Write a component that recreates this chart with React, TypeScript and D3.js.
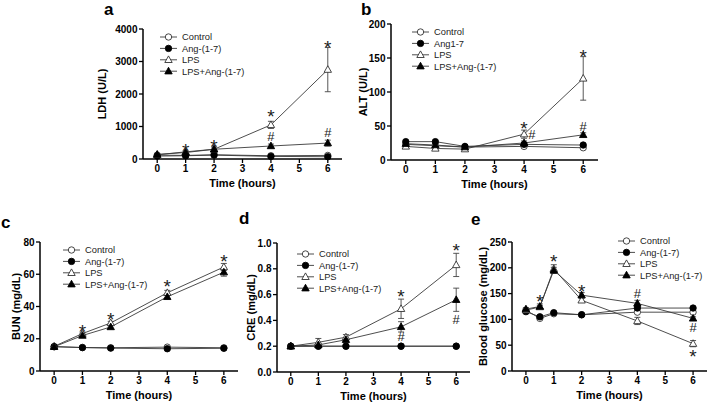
import React from 'react';
import * as d3 from 'd3';

const FONT = "'Liberation Sans', Arial, Helvetica, sans-serif";

// time points
const TIMES = [0, 1, 2, 4, 6];
const TIMES_E = [0, 0.5, 1, 2, 4, 6];
const X_TICKS = [0, 1, 2, 3, 4, 5, 6];

// a: LDH (U/L)
const ldhControl = [120, 110, 130, 100, 110];
const ldhAng = [90, 100, 120, 80, 70];
const ldhLps = [130, 220, 300, 1050, 2750];
const ldhLpsErr = [20, 40, 90, 110, 680];
const ldhLpsAng = [140, 200, 300, 400, 490];
const ldhLpsAngErr = [20, 30, 40, 60, 90];

// b: ALT (U/L)
const altControl = [23, 21, 19, 20, 18];
const altAng = [27, 27, 20, 23, 22];
const altLps = [20, 17, 16, 38, 120];
const altLpsErr = [2, 2, 2, 6, 32];
const altLpsAng = [24, 22, 19, 25, 37];
const altLpsAngErr = [2, 2, 2, 3, 3];

// c: BUN (mg/dL)
const bunControl = [15.2, 14.6, 14.4, 14.8, 14.4];
const bunAng = [15, 14.5, 14.2, 13.8, 14.1];
const bunLps = [15.3, 23.2, 29.8, 48.5, 64.5];
const bunLpsErr = [0.6, 1, 1, 1.5, 2.2];
const bunLpsAng = [15, 22, 27.3, 46, 61.3];
const bunLpsAngErr = [0.6, 1, 1, 1.2, 2.5];

// d: CRE (mg/dL)
const creControl = [0.2, 0.2, 0.2, 0.2, 0.2];
const creAng = [0.2, 0.2, 0.2, 0.2, 0.2];
const creLps = [0.2, 0.23, 0.27, 0.49, 0.83];
const creLpsErr = [0.005, 0.03, 0.02, 0.075, 0.09];
const creLpsAng = [0.2, 0.21, 0.25, 0.35, 0.56];
const creLpsAngErr = [0.005, 0.01, 0.01, 0.04, 0.09];

// e: Blood glucose (mg/dL)
const gluControl = [118, 102, 111, 109, 114, 114];
const gluAng = [115, 105, 113, 109, 122, 122];
const gluLps = [118, 124, 198, 137, 97, 53];
const gluLpsErr = [3, 3, 8, 4, 7, 6];
const gluLpsAng = [120, 125, 195, 147, 131, 102];
const gluLpsAngErr = [3, 5, 6, 5, 6, 3];

const legendA = ['Control', 'Ang-(1-7)', 'LPS', 'LPS+Ang-(1-7)'];
const legendB = ['Control', 'Ang1-7', 'LPS', 'LPS+Ang-(1-7)'];

// significance marks: [time, value, symbol]
const marksA: [number, number, string][] = [[1, 400, '*'], [2, 530, '*'], [4, 1455, '*'], [6, 3580, '*'], [4, 690, '#'], [6, 810, '#']];
const marksB: [number, number, string][] = [[4, 53, '*'], [6, 159, '*'], [4.26, 37, '#'], [6, 49, '#']];
const marksC: [number, number, string][] = [[1, 27.5, '*'], [2, 34.7, '*'], [4, 55.4, '*'], [6, 70.9, '*']];
const marksD: [number, number, string][] = [[4, 0.62, '*'], [6, 0.977, '*'], [4, 0.274, '#'], [6, 0.41, '#']];
const marksE: [number, number, string][] = [[0.5, 144, '*'], [1, 221, '*'], [2, 162, '*'], [4, 151, '#'], [6, 85, '#'], [6, 37, '*']];

type Kind = 'openCircle' | 'filledCircle' | 'openTri' | 'filledTri';
const KINDS: Kind[] = ['openCircle', 'filledCircle', 'openTri', 'filledTri'];

function Marker({ kind, x, y }: { kind: Kind; x: number; y: number }) {
  const fill = kind.startsWith('filled') ? '#000' : '#fff';
  const stroke = kind.startsWith('filled') ? '#000' : '#333';
  if (kind.endsWith('Circle')) {
    return <circle cx={x} cy={y} r={3.2} fill={fill} stroke={stroke} strokeWidth={0.9} />;
  }
  const p = `M${x},${y - 3.9}L${x + 3.7},${y + 2.7}L${x - 3.7},${y + 2.7}Z`;
  return <path d={p} fill={fill} stroke={stroke} strokeWidth={0.9} />;
}

interface PanelProps {
  letter: string;
  letterPos: [number, number];
  left: number; right: number; top: number; bottom: number;
  yMax: number; yTicks: number[]; yFmt: (v: number) => string;
  yLabel: string; yLabelX: number;
  times: number[];
  series: number[][];
  errs: (number[] | null)[];
  legend: string[];
  legendPos: [number, number];
  marks: [number, number, string][];
}

function Panel(p: PanelProps) {
  const x = d3.scaleLinear().domain([-0.5, 6.5]).range([p.left, p.right]);
  const y = d3.scaleLinear().domain([0, p.yMax]).range([p.bottom, p.top]);
  const line = d3.line<number>().x((_, i) => x(p.times[i])).y(d => y(d));
  const midY = (p.top + p.bottom) / 2;
  const midX = (p.left + p.right) / 2;

  return (
    <g fontFamily={FONT}>
      <text x={p.letterPos[0]} y={p.letterPos[1]} fontSize={17} fontWeight="bold">{p.letter}</text>
      {/* lines */}
      {p.series.map((s, k) => (
        <path key={'l' + k} d={line(s) || ''} fill="none" stroke="#3a3a3a" strokeWidth={0.9} />
      ))}
      {/* error bars */}
      {p.series.map((s, k) => {
        const e = p.errs[k];
        if (!e) return null;
        return s.map((v, i) => {
          if (!e[i]) return null;
          const cx = x(p.times[i]);
          const y1 = y(v + e[i]);
          const y2 = y(v - e[i]);
          return (
            <g key={'e' + k + '-' + i} stroke="#444" strokeWidth={0.9}>
              <line x1={cx} x2={cx} y1={y1} y2={y2} />
              <line x1={cx - 3} x2={cx + 3} y1={y1} y2={y1} />
              <line x1={cx - 3} x2={cx + 3} y1={y2} y2={y2} />
            </g>
          );
        });
      })}
      {/* markers */}
      {p.series.map((s, k) => s.map((v, i) => (
        <Marker key={'m' + k + '-' + i} kind={KINDS[k]} x={x(p.times[i])} y={y(v)} />
      )))}
      {/* significance */}
      {p.marks.map(([t, v, sym], i) => (
        <text key={'s' + i} x={x(t)} y={y(v) + (sym === '*' ? 11 : 4.6)} textAnchor="middle"
          fontSize={sym === '*' ? 19 : 13} fill="#222">{sym}</text>
      ))}
      {/* axes */}
      <line x1={p.left} x2={p.right} y1={p.bottom} y2={p.bottom} stroke="#000" strokeWidth={1.5} />
      <line x1={p.left} x2={p.left} y1={p.top} y2={p.bottom} stroke="#000" strokeWidth={1.5} />
      {X_TICKS.map(t => (
        <g key={'xt' + t}>
          <line x1={x(t)} x2={x(t)} y1={p.bottom} y2={p.bottom + 4} stroke="#000" strokeWidth={1.3} />
          <text x={x(t)} y={p.bottom + 13} textAnchor="middle" fontSize={10} fontWeight="bold">{t}</text>
        </g>
      ))}
      {p.yTicks.map(t => (
        <g key={'yt' + t}>
          <line x1={p.left - 4} x2={p.left} y1={y(t)} y2={y(t)} stroke="#000" strokeWidth={1.3} />
          <text x={p.left - 5.5} y={y(t) + 3.6} textAnchor="end" fontSize={10} fontWeight="bold">{p.yFmt(t)}</text>
        </g>
      ))}
      <text x={midX} y={p.bottom + 28} textAnchor="middle" fontSize={11} fontWeight="bold">Time (hours)</text>
      <text transform={`translate(${p.yLabelX},${midY}) rotate(-90)`} textAnchor="middle" dominantBaseline="central"
        fontSize={11} fontWeight="bold">{p.yLabel}</text>
      {/* legend */}
      {p.legend.map((name, k) => {
        const ly = p.legendPos[1] + k * 11.4;
        const lx = p.legendPos[0];
        return (
          <g key={'lg' + k}>
            <line x1={lx} x2={lx + 17} y1={ly} y2={ly} stroke="#3a3a3a" strokeWidth={0.9} />
            <Marker kind={KINDS[k]} x={lx + 8.5} y={ly} />
            <text x={lx + 22} y={ly + 3.3} fontSize={9.3} fill="#222">{name}</text>
          </g>
        );
      })}
    </g>
  );
}

export default function App() {
  return (
    <svg width={708} height={402} style={{ position: 'absolute', left: 0, top: 0, background: '#fff' }}>
      <rect width={708} height={402} fill="#fff" />
      <Panel letter="a" letterPos={[104, 15]} left={143} right={342} top={29} bottom={159}
        yMax={4000} yTicks={[0, 1000, 2000, 3000, 4000]} yFmt={d => String(d)}
        yLabel="LDH (U/L)" yLabelX={102} times={TIMES}
        series={[ldhControl, ldhAng, ldhLps, ldhLpsAng]} errs={[null, null, ldhLpsErr, ldhLpsAngErr]}
        legend={legendA} legendPos={[160, 37]} marks={marksA} />
      <Panel letter="b" letterPos={[361, 15]} left={391} right={598} top={24} bottom={160}
        yMax={200} yTicks={[0, 50, 100, 150, 200]} yFmt={d => String(d)}
        yLabel="ALT (U/L)" yLabelX={363} times={TIMES}
        series={[altControl, altAng, altLps, altLpsAng]} errs={[null, null, altLpsErr, altLpsAngErr]}
        legend={legendB} legendPos={[412, 32]} marks={marksB} />
      <Panel letter="c" letterPos={[1, 228]} left={40} right={238} top={242} bottom={371}
        yMax={80} yTicks={[0, 20, 40, 60, 80]} yFmt={d => String(d)}
        yLabel="BUN (mg/dL)" yLabelX={16} times={TIMES}
        series={[bunControl, bunAng, bunLps, bunLpsAng]} errs={[null, null, bunLpsErr, bunLpsAngErr]}
        legend={legendA} legendPos={[63, 250]} marks={marksC} />
      <Panel letter="d" letterPos={[239, 224]} left={277} right={470} top={243} bottom={372}
        yMax={1} yTicks={[0, 0.2, 0.4, 0.6, 0.8, 1.0]} yFmt={d => d.toFixed(1)}
        yLabel="CRE (mg/dL)" yLabelX={251} times={TIMES}
        series={[creControl, creAng, creLps, creLpsAng]} errs={[null, null, creLpsErr, creLpsAngErr]}
        legend={legendA} legendPos={[297, 254]} marks={marksD} />
      <Panel letter="e" letterPos={[471, 225]} left={512} right={707} top={242} bottom={371}
        yMax={250} yTicks={[0, 50, 100, 150, 200, 250]} yFmt={d => String(d)}
        yLabel="Blood glucose (mg/dL)" yLabelX={483} times={TIMES_E}
        series={[gluControl, gluAng, gluLps, gluLpsAng]} errs={[null, null, gluLpsErr, gluLpsAngErr]}
        legend={legendA} legendPos={[618, 241]} marks={marksE} />
    </svg>
  );
}
